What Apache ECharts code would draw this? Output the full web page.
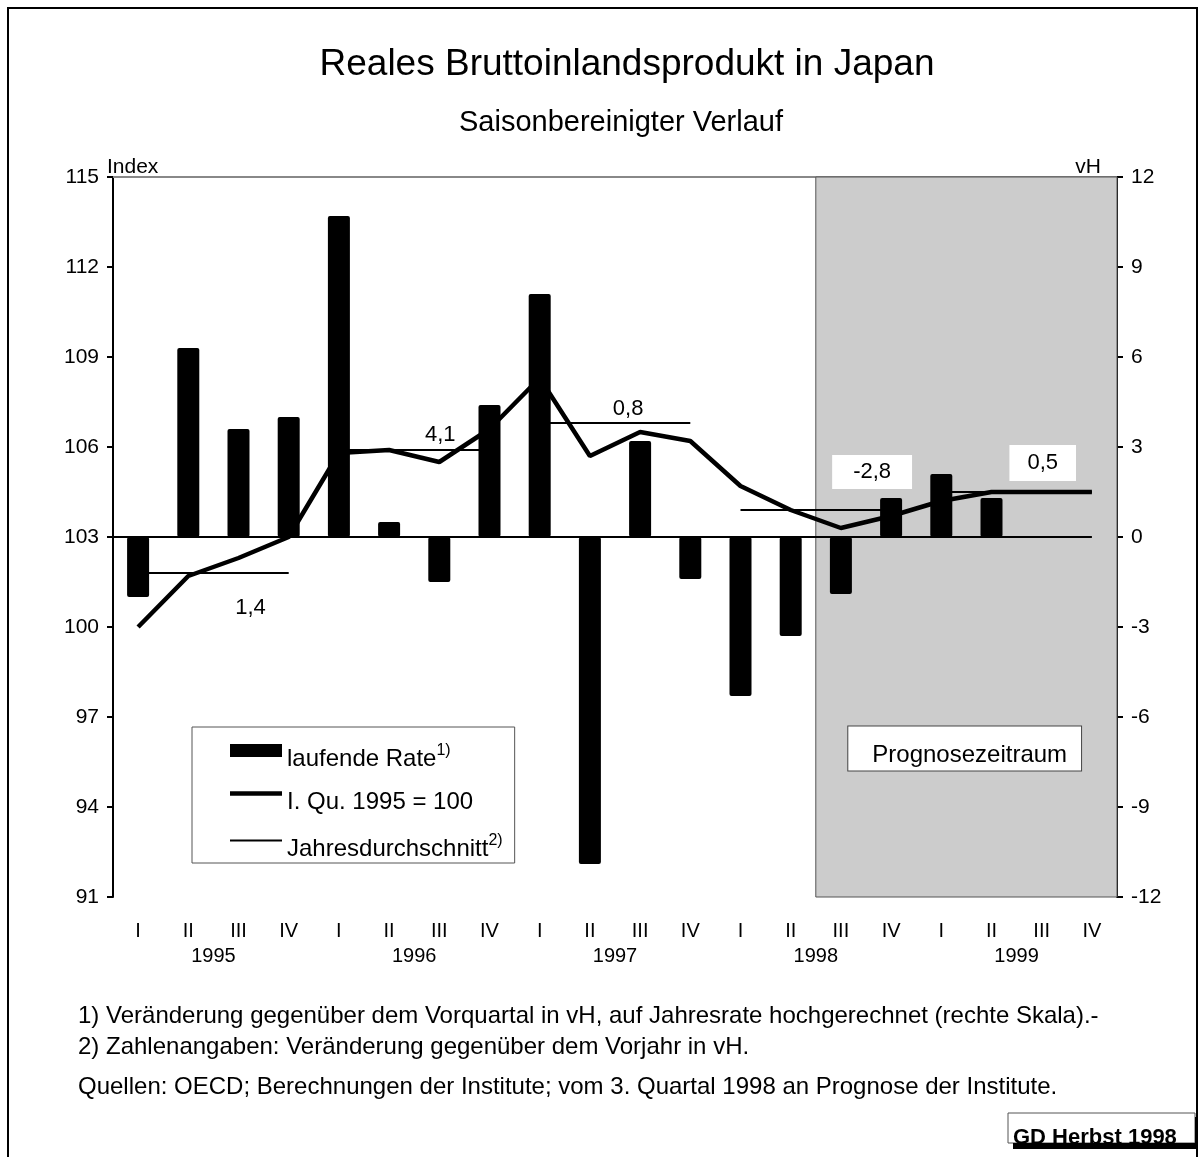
<!DOCTYPE html>
<html>
<head>
<meta charset="utf-8">
<title>Reales Bruttoinlandsprodukt in Japan</title>
<script src="https://cdn.jsdelivr.net/npm/echarts@6/dist/echarts.min.js"></script>
<style>
  html, body { margin: 0; padding: 0; background: #fff; }
  #chart { width: 1204px; height: 1157px; }
</style>
</head>
<body>
<div id="chart"></div>
<script>
// data
var years = ['1995', '1996', '1997', '1998', '1999'];
var quarterNames = ['I', 'II', 'III', 'IV'];
// laufende Rate, vH (right scale)
var rate = [-2.0, 6.3, 3.6, 4.0, 10.7, 0.5, -1.5, 4.4, 8.1, -10.9, 3.2, -1.4, -5.3, -3.3, -1.9, 1.3, 2.1, 1.3, null, null];
// I. Qu. 1995 = 100 (left scale)
var indexLevel = [100.0, 101.7, 102.3, 103.0, 105.8, 105.9, 105.5, 106.6, 108.3, 105.7, 106.5, 106.2, 104.7, 103.9, 103.3, 103.7, 104.2, 104.5, 104.5, 104.5];
// Jahresdurchschnitt, index level per year
var annualAvg = [101.8, 105.9, 106.8, 103.9, 104.5];
var annualChange = ['1,4', '4,1', '0,8', '-2,8', '0,5'];
var forecastFrom = 14; // 1998 III

var FONT = '"Liberation Sans", Arial, sans-serif';

var categories = [];
years.forEach(function (y) {
  quarterNames.forEach(function (q) { categories.push(q + ' ' + y); });
});

// label placement for the annual numbers (quarter slot inside year, offset)
var labelSlot = [2, 2, 2, 3, 2];
var labelOffset = [[12, 35], [1, -15], [-12, -14], [-19, -38], [1, -29]];
var labelPad = [[0, 0, 0, 0], [0, 0, 0, 0], [0, 0, 0, 0], [8, 21, 4, 21], [9, 18, 5, 18]];

var series = [
  {
    name: 'laufende Rate',
    type: 'bar',
    yAxisIndex: 1,
    barWidth: 22,
    z: 3,
    itemStyle: { color: '#000', borderRadius: 2 },
    data: rate,
    markLine: {
      silent: true,
      symbol: 'none',
      label: { show: false },
      lineStyle: { color: '#000', width: 2, type: 'solid' },
      data: [[{ coord: [0, 0] }, { coord: [categories.length - 1, 0] }]]
    }
  },
  {
    name: 'I. Qu. 1995 = 100',
    type: 'line',
    yAxisIndex: 0,
    symbol: 'none',
    z: 5,
    lineStyle: { color: '#000', width: 4.5 },
    itemStyle: { color: '#000' },
    data: indexLevel
  },
  {
    name: 'forecast',
    type: 'line',
    xAxisIndex: 2,
    yAxisIndex: 0,
    z: 1,
    silent: true,
    data: [],
    markArea: {
      silent: true,
      itemStyle: { color: '#cccccc', borderColor: '#555', borderWidth: 1 },
      label: {
        show: true,
        position: [33, 550],
        fontSize: 24,
        fontFamily: FONT,
        color: '#000',
        backgroundColor: '#fff',
        borderColor: '#444',
        borderWidth: 1,
        padding: [17, 14, 3, 24]
      },
      data: [[{ name: 'Prognosezeitraum', xAxis: forecastFrom }, { xAxis: categories.length }]]
    }
  }
];

annualAvg.forEach(function (avg, i) {
  var d = categories.map(function (c, k) {
    return Math.floor(k / 4) === i ? avg : null;
  });
  series.push({
    name: 'Jahresdurchschnitt',
    type: 'line',
    yAxisIndex: 0,
    symbol: 'none',
    z: 4,
    lineStyle: { color: '#000', width: 2 },
    itemStyle: { color: '#000' },
    data: d,
    markPoint: {
      symbol: 'circle',
      symbolSize: 1,
      itemStyle: { color: 'transparent' },
      label: {
        show: true,
        formatter: '{b}',
        position: 'inside',
        offset: labelOffset[i],
        fontSize: 22,
        fontFamily: FONT,
        color: '#000',
        backgroundColor: i >= 3 ? '#fff' : 'transparent',
        padding: labelPad[i]
      },
      data: [{ name: annualChange[i], coord: [i * 4 + labelSlot[i], avg] }]
    }
  });
});

var chart = echarts.init(document.getElementById('chart'));

chart.setOption({
  animation: false,
  backgroundColor: '#fff',
  textStyle: { fontFamily: FONT, color: '#000' },
  title: [
    { text: 'Reales Bruttoinlandsprodukt in Japan', left: 622, top: 41, textAlign: 'center',
      textStyle: { fontSize: 37, fontWeight: 'normal', color: '#000', fontFamily: FONT } },
    { text: 'Saisonbereinigter Verlauf', left: 616, top: 103, textAlign: 'center',
      textStyle: { fontSize: 29, fontWeight: 'normal', color: '#000', fontFamily: FONT } }
  ],
  grid: { left: 113, right: 87, top: 177, bottom: 260 },
  legend: {
    orient: 'vertical',
    left: 192,
    top: 727,
    padding: [16, 12, 2, 38],
    itemGap: 19,
    itemWidth: 52,
    itemHeight: 13,
    borderColor: '#555',
    borderWidth: 1,
    backgroundColor: '#fff',
    selectedMode: false,
    textStyle: {
      fontSize: 24, color: '#000', fontFamily: FONT, padding: [17, 0, 0, 0],
      rich: { s: { fontSize: 16, fontFamily: FONT, color: '#000', padding: [0, 0, 16, 0] } }
    },
    formatter: function (name) {
      if (name === 'laufende Rate') return name + '{s|1)}';
      if (name === 'Jahresdurchschnitt') return name + '{s|2)}';
      return name;
    },
    data: [
      { name: 'laufende Rate', icon: 'rect' },
      { name: 'I. Qu. 1995 = 100', icon: 'path://M0,0H52V4.5H0Z' },
      { name: 'Jahresdurchschnitt', icon: 'path://M0,0H52V2H0Z' }
    ]
  },
  xAxis: [
    {
      type: 'category',
      data: categories,
      position: 'bottom',
      axisLine: { lineStyle: { color: '#000', width: 2 } },
      axisTick: { length: 6, lineStyle: { color: '#000', width: 2 } },
      axisLabel: {
        margin: 24, fontSize: 20, color: '#000', fontFamily: FONT, interval: 0,
        formatter: function (v) { return v.split(' ')[0]; }
      },
      splitLine: { show: false }
    },
    {
      type: 'category',
      data: years,
      position: 'bottom',
      axisLine: { show: false },
      axisTick: { show: false },
      axisLabel: { margin: 49, fontSize: 20, color: '#000', fontFamily: FONT, interval: 0 },
      splitLine: { show: false }
    },
    {
      type: 'value',
      min: 0,
      max: categories.length,
      position: 'top',
      axisLine: { show: true, lineStyle: { color: '#888', width: 2 } },
      axisTick: { show: false },
      axisLabel: { show: false },
      splitLine: { show: false }
    }
  ],
  yAxis: [
    {
      type: 'value',
      min: 91,
      max: 115,
      interval: 3,
      name: 'Index',
      nameLocation: 'end',
      nameGap: -1,
      nameTextStyle: { fontSize: 21, color: '#000', fontFamily: FONT, align: 'left', padding: [0, 0, 0, -6] },
      axisLine: { show: true, lineStyle: { color: '#000', width: 2 } },
      axisTick: { show: true, length: 6, lineStyle: { color: '#000', width: 2 } },
      axisLabel: { margin: 14, fontSize: 21, color: '#000', fontFamily: FONT },
      splitLine: { show: false }
    },
    {
      type: 'value',
      min: -12,
      max: 12,
      interval: 3,
      position: 'right',
      name: 'vH',
      nameLocation: 'end',
      nameGap: -1,
      nameTextStyle: { fontSize: 21, color: '#000', fontFamily: FONT, align: 'right', padding: [0, 16, 0, 0] },
      axisLine: { show: true, lineStyle: { color: '#000', width: 2 } },
      axisTick: { show: true, length: 6, lineStyle: { color: '#000', width: 2 } },
      axisLabel: { margin: 14, fontSize: 21, color: '#000', fontFamily: FONT },
      splitLine: { show: false }
    }
  ],
  series: series,
  graphic: [
    { type: 'rect', silent: true, z: -10,
      shape: { x: 8, y: 8, width: 1189, height: 1170 },
      style: { fill: 'transparent', stroke: '#000', lineWidth: 2 } },
    { type: 'text', left: 78, top: 1004,
      style: { text: '1) Veränderung gegenüber dem Vorquartal in vH, auf Jahresrate hochgerechnet (rechte Skala).-',
        font: '24px ' + FONT, fill: '#000' } },
    { type: 'text', left: 78, top: 1035,
      style: { text: '2) Zahlenangaben: Veränderung gegenüber dem Vorjahr in vH.',
        font: '24px ' + FONT, fill: '#000' } },
    { type: 'text', left: 78, top: 1075,
      style: { text: 'Quellen: OECD; Berechnungen der Institute; vom 3. Quartal 1998 an Prognose der Institute.',
        font: '24px ' + FONT, fill: '#000' } },
    { type: 'rect', shape: { x: 1008, y: 1113, width: 187, height: 30 },
      style: { fill: '#fff', stroke: '#555', lineWidth: 1 } },
    { type: 'text', left: 1013, top: 1127, z: 101,
      style: { text: 'GD Herbst 1998', font: 'bold 22px ' + FONT, fill: '#000' } },
    { type: 'rect', z: 102, shape: { x: 1013, y: 1143, width: 185, height: 6 }, style: { fill: '#000' } },
    { type: 'rect', z: 102, shape: { x: 1195, y: 1117, width: 3, height: 32 }, style: { fill: '#000' } }
  ]
});
</script>
</body>
</html>
